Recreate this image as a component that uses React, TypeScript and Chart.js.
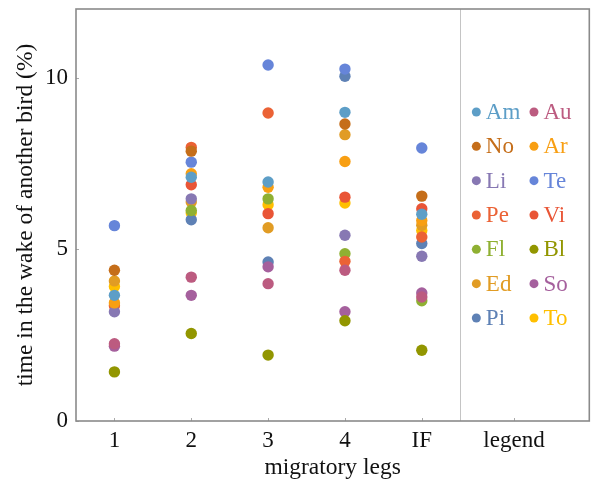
import React, { useEffect, useRef } from "react";
import { Chart, registerables } from "chart.js";

Chart.register(...registerables);

// categories (x positions 1..5) and tick labels
const legLabels = ["1", "2", "3", "4", "IF"];
const tickLabels = ["1", "2", "3", "4", "IF", "legend"];
const tickValues = [1, 2, 3, 4, 5, 6.2];
const yTicks = [0, 5, 10];

const birds = ["Am", "Au", "No", "Ar", "Li", "Te", "Pe", "Vi", "Fl", "Bl", "Ed", "So", "Pi", "To"];
const birdColors = [
  "#5D9EC7", "#BC5B80", "#C56E1A", "#F89F13", "#8778B3", "#6685D9", "#EB6235",
  "#E95536", "#8FB032", "#929600", "#E19C24", "#A5609D", "#5E81B5", "#FFBF00",
];

// values (%) per leg: 1, 2, 3, 4, IF
const Am = [3.66, 7.1, 6.96, 8.99, 6.02];
const Au = [2.25, 4.19, 4.0, 4.39, 3.61];
const No = [4.39, 7.86, null, 8.65, 6.55];
const Ar = [3.44, 7.2, 6.81, 7.56, 5.84];
const Li = [3.18, 6.47, null, 5.41, 4.8];
const Te = [5.69, 7.54, 10.37, 10.25, 7.95];
const Pe = [3.36, 7.97, 8.97, 4.65, 5.36];
const Vi = [null, 6.88, 6.04, 6.52, 6.18];
const Fl = [null, 6.13, 6.47, 4.87, 3.5];
const Bl = [1.43, 2.55, 1.92, 2.92, 2.06];
const Ed = [4.08, 6.38, 5.63, 8.34, 5.7];
const So = [2.18, 3.66, 4.49, 3.18, 3.73];
const Pi = [null, 5.86, 4.63, 10.04, 5.17];
const To = [3.92, 6.06, 6.3, 6.35, 5.55];
const series = [Am, Au, No, Ar, Li, Te, Pe, Vi, Fl, Bl, Ed, So, Pi, To];

// legend layout in data coordinates
const legendCols = [5.71, 6.46];
const legendRows = [9, 8, 7, 6, 5, 4, 3];

const FONT = "'Liberation Serif', 'Times New Roman', serif";

const framePlugin = {
  id: "frame",
  beforeDatasetsDraw(chart: any) {
    const { ctx, chartArea: a, scales } = chart;
    const xs = scales.x;
    const ys = scales.y;
    ctx.save();
    // separator
    ctx.strokeStyle = "#c4c4c4";
    ctx.lineWidth = 1;
    const sx = Math.round(xs.getPixelForValue(5.5)) + 0.5;
    ctx.beginPath();
    ctx.moveTo(sx, a.top);
    ctx.lineTo(sx, a.bottom);
    ctx.stroke();
    // inner ticks
    ctx.strokeStyle = "#aaa";
    ctx.beginPath();
    tickValues.forEach((v) => {
      const px = Math.round(xs.getPixelForValue(v)) + 0.5;
      ctx.moveTo(px, a.bottom);
      ctx.lineTo(px, a.bottom - 3);
    });
    yTicks.forEach((v) => {
      const py = Math.round(ys.getPixelForValue(v)) + 0.5;
      ctx.moveTo(a.left, py);
      ctx.lineTo(a.left + 3, py);
    });
    ctx.stroke();
    // frame
    ctx.strokeStyle = "#8a8a8a";
    ctx.lineWidth = 1.6;
    ctx.strokeRect(a.left, a.top, a.right - a.left, a.bottom - a.top);
    ctx.restore();
  },
};

const legendPlugin = {
  id: "birdLegend",
  afterDatasetsDraw(chart: any) {
    const { ctx, scales } = chart;
    ctx.save();
    ctx.font = `23px ${FONT}`;
    ctx.textBaseline = "middle";
    ctx.textAlign = "left";
    birds.forEach((b, i) => {
      const col = i % 2;
      const row = Math.floor(i / 2);
      const px = scales.x.getPixelForValue(legendCols[col]);
      const py = scales.y.getPixelForValue(legendRows[row]);
      ctx.fillStyle = birdColors[i];
      ctx.beginPath();
      ctx.arc(px, py, 4.5, 0, Math.PI * 2);
      ctx.fill();
      ctx.fillText(b, px + 9.5, py + 1);
    });
    ctx.restore();
  },
};

export default function App() {
  const ref = useRef<HTMLCanvasElement>(null);
  useEffect(() => {
    document.body.style.margin = "0";
    const canvas = ref.current!;
    Chart.defaults.font.family = FONT;
    const datasets = birds.map((b, i) => ({
      label: b,
      data: series[i]
        .map((v, j) => (v === null ? null : { x: j + 1, y: v }))
        .filter((p) => p !== null),
      backgroundColor: birdColors[i],
      borderColor: birdColors[i],
      borderWidth: 0,
      pointRadius: 5.7,
      pointHoverRadius: 5.7,
    }));
    const chart = new Chart(canvas, {
      type: "scatter",
      data: { datasets },
      plugins: [framePlugin, legendPlugin],
      options: {
        animation: false,
        responsive: false,
        maintainAspectRatio: false,
        layout: { padding: { top: 9, right: 3, left: 0, bottom: 0 } },
        plugins: { legend: { display: false }, tooltip: { enabled: false } },
        scales: {
          x: {
            type: "linear",
            min: 0.5,
            max: 7.18,
            grid: { display: false, drawTicks: false },
            border: { display: false },
            afterBuildTicks: (s: any) => {
              s.ticks = tickValues.map((v) => ({ value: v }));
            },
            afterFit: (s: any) => {
              s.height = 58;
              s.paddingLeft = 0;
              s.paddingRight = 0;
            },
            ticks: {
              autoSkip: false,
              maxRotation: 0,
              padding: 6,
              color: "#111",
              font: { size: 23, family: FONT },
              callback: (_v: any, idx: number) => tickLabels[idx],
            },
            title: {
              display: true,
              text: "migratory legs",
              color: "#111",
              font: { size: 23.5, family: FONT, lineHeight: 1 },
              padding: { top: 0, bottom: -1 },
            },
          },
          y: {
            type: "linear",
            min: 0,
            max: 12,
            grid: { display: false, drawTicks: false },
            border: { display: false },
            afterBuildTicks: (s: any) => {
              s.ticks = yTicks.map((v) => ({ value: v }));
            },
            afterFit: (s: any) => {
              s.width = 76;
              s.paddingTop = 0;
              s.paddingBottom = 0;
            },
            ticks: {
              padding: 8,
              color: "#111",
              font: { size: 23, family: FONT },
            },
            title: {
              display: true,
              text: "time in the wake of another bird (%)",
              color: "#111",
              font: { size: 23.5, family: FONT, lineHeight: 1 },
              padding: { top: 14, bottom: 0 },
            },
          },
        },
      },
    });
    return () => chart.destroy();
  }, []);
  return <canvas ref={ref} width={595} height={479} style={{ display: "block" }} />;
}
